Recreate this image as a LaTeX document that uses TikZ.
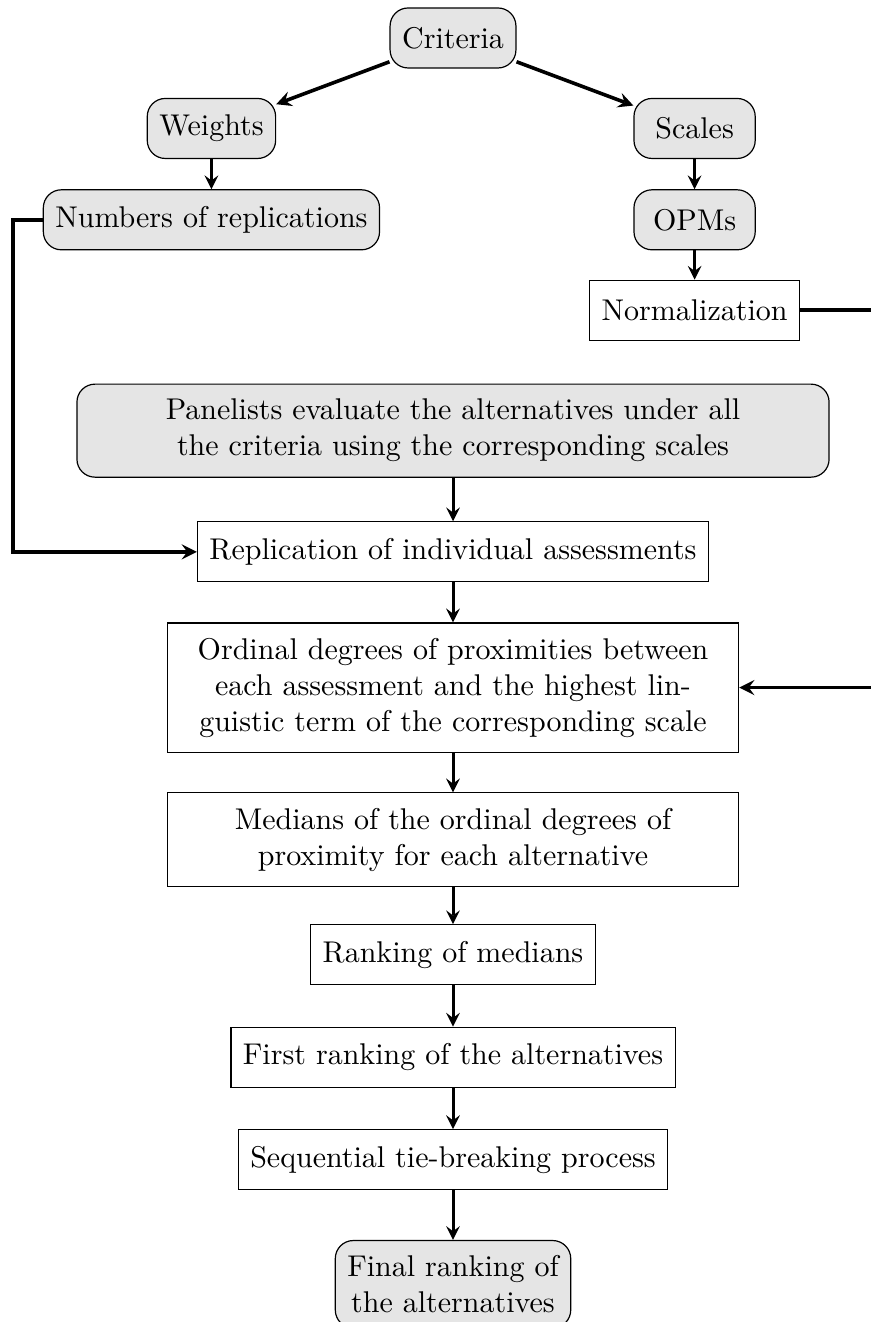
\documentclass[tikz,border=0pt]{standalone}
\usepackage{tikz}

\tikzset{
	roundbox/.style = {draw, fill=gray!20, rounded corners=6pt, inner xsep=4pt, inner ysep=5pt, minimum height=20pt, minimum width=1.42cm, align=center},
	flatbox/.style = {draw, inner xsep=4pt, inner ysep=5pt, minimum height=20pt, align=center},
	loopline/.style = {very thick}
}

\begin{document}
\begin{tikzpicture}[
				> = stealth, % arrow head style
				node distance = 1.2cm % distance between node centres
				]
				\useasboundingbox (-5.307,0.445) rectangle (4.885,-15.042);
				
				\node (crit) [roundbox] {Criteria};
				\node (wgt) [roundbox, node distance=1.06cm, below of=crit, xshift=-2.83cm] {Weights};
				\node (scl) [roundbox, node distance=1.06cm, below of=crit, xshift=2.83cm] {Scales};
				\node (nrep) [roundbox, node distance=1.07cm, below of=wgt] {Numbers of replications};
				\node (opm) [roundbox, node distance=1.07cm, below of=scl] {OPMs};
				\node (norm) [flatbox, node distance=1.06cm, below of=opm] {Normalization};
				
				\node (panel) [roundbox, text width=8.53cm, node distance=4.6cm, below of=crit] {Panelists evaluate the alternatives under all\\the criteria using the corresponding scales};
				\node (repl) [flatbox, node distance=1.42cm, below of=panel] {Replication of individual assessments};
				\node (ordg) [flatbox, text width=6.41cm, node distance=1.59cm, below of=repl] {Ordinal degrees of proximities between\\each assessment and the highest lin-\\guistic term of the corresponding scale};
				\node (med) [flatbox, text width=6.41cm, node distance=1.78cm, below of=ordg] {Medians of the ordinal degrees of\\proximity for each alternative};
				\node (rank) [flatbox, node distance=1.35cm, below of=med] {Ranking of medians};
				\node (first) [flatbox, below of=rank] {First ranking of the alternatives};
				\node (seq) [flatbox, below of=first] {Sequential tie-breaking process};
				\node (final) [roundbox, node distance=1.46cm, below of=seq] {Final ranking of\\the alternatives};
				
				\path[->, loopline] (crit) edge (wgt);
				\path[->, loopline] (crit) edge (scl);
				\path[->, line width=1pt] (wgt) edge (nrep);
				\path[->, line width=1pt] (scl) edge (opm);
				\path[->, line width=1pt] (opm) edge (norm);
				\path[->, line width=1pt] (panel) edge (repl);
				\path[->, line width=1pt] (repl) edge (ordg);
				\path[->, line width=1pt] (ordg) edge (med);
				\path[->, line width=1pt] (med) edge (rank);
				\path[->, line width=1pt] (rank) edge (first);
				\path[->, line width=1pt] (first) edge (seq);
				\path[->, line width=1pt] (seq) edge (final);
				
				\draw[->, loopline] (nrep.west) -- ++(-0.35,0) |- (repl.west);
				\draw[->, loopline] (norm.east) -- ++(1.0,0) |- (ordg.east);
				
			\end{tikzpicture}
\end{document}
